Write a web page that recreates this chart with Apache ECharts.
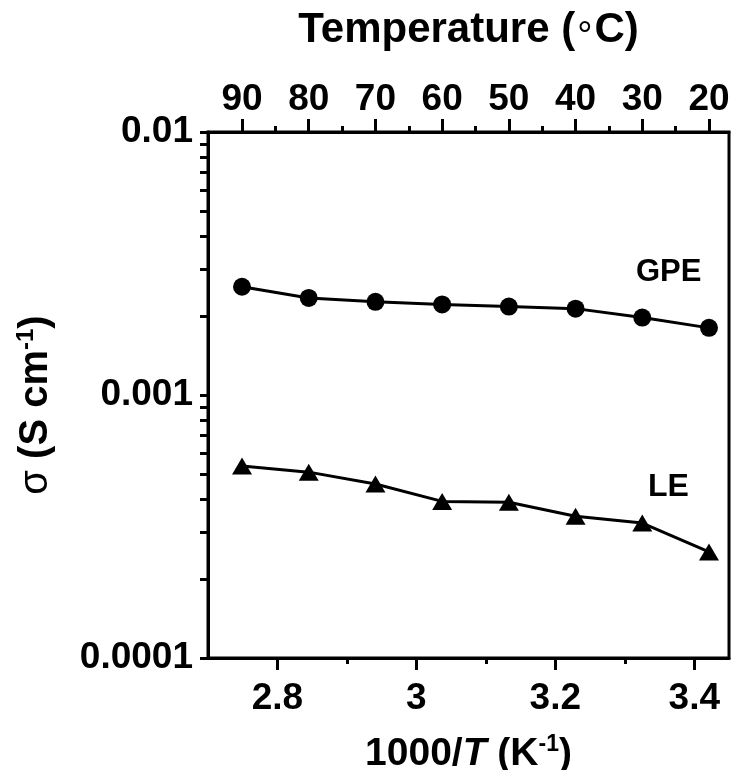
<!DOCTYPE html>
<html>
<head>
<meta charset="utf-8">
<script src="https://cdn.jsdelivr.net/npm/echarts@6/dist/echarts.min.js"></script>
<style>
  html, body { margin: 0; padding: 0; background: #fff; }
  #chart { width: 734px; height: 770px; }
</style>
</head>
<body>
<div id="chart"></div>
<script>
// temperature points (top axis), conductivity
var temps = [90, 80, 70, 60, 50, 40, 30, 20];
var gpe = [0.00258, 0.00234, 0.00226, 0.00221, 0.00217, 0.00213, 0.00197, 0.00180];
var le = [0.000537, 0.000509, 0.000459, 0.000394, 0.000391, 0.000346, 0.000326, 0.000253];

// tick values
var invTMajor = [2.8, 3.0, 3.2, 3.4];
var invTMinor = [2.9, 3.1, 3.3];
var tempMajor = [90, 80, 70, 60, 50, 40, 30, 20];
var tempMinor = [85, 75, 65, 55, 45, 35, 25];
var sigmaMajor = [0.0001, 0.001, 0.01];
var sigmaAll = [0.0001, 0.0002, 0.0003, 0.0004, 0.0005, 0.0006, 0.0007, 0.0008, 0.0009,
  0.001, 0.002, 0.003, 0.004, 0.005, 0.006, 0.007, 0.008, 0.009, 0.01];

var FONT = "'Liberation Sans', Arial, sans-serif";
var black = '#000';

var myChart = echarts.init(document.getElementById('chart'), null, { renderer: 'canvas' });

var labelStyle = {
  color: black,
  fontFamily: FONT,
  fontWeight: 'bold',
  fontSize: 37
};

var option = {
  backgroundColor: '#fff',
  animation: false,
  grid: {
    left: 208,
    right: 5,
    top: 132,
    bottom: 112,
    show: true,
    borderColor: black,
    borderWidth: 3,
    containLabel: false,
    outerBoundsMode: 'none'
  },
  xAxis: [
    {
      // 1000/T, bottom
      type: 'value',
      position: 'bottom',
      min: 2.7,
      max: 3.45,
      splitLine: { show: false },
      axisLine: { show: true, lineStyle: { color: black, width: 3 } },
      axisTick: { show: true, customValues: invTMajor, length: 12, lineStyle: { color: black, width: 3 } },
      axisLabel: Object.assign({
        customValues: invTMajor,
        margin: 22,
        formatter: function (v) { return String(+v.toFixed(1)); }
      }, labelStyle),
      name: '1000/{i|T} (K{sup|-1})',
      nameLocation: 'middle',
      nameGap: 75,
      nameTextStyle: {
        color: black, fontFamily: FONT, fontWeight: 'bold', fontSize: 39,
        rich: {
          i: { fontFamily: FONT, fontWeight: 'bold', fontStyle: 'italic', fontSize: 39, color: black },
          sup: { fontFamily: FONT, fontWeight: 'bold', fontSize: 23, color: black, verticalAlign: 'top', lineHeight: 42 }
        }
      }
    },
    {
      // temperature, top
      type: 'value',
      position: 'top',
      min: 17.0,
      max: 95.1,
      inverse: true,
      splitLine: { show: false },
      axisLine: { show: true, lineStyle: { color: black, width: 3 } },
      axisTick: { show: true, customValues: tempMajor, length: 13, lineStyle: { color: black, width: 3 } },
      axisLabel: Object.assign({ customValues: tempMajor, margin: 14 }, labelStyle),
      name: 'Temperature ({d|°}C)',
      nameLocation: 'middle',
      nameGap: 75,
      nameTextStyle: {
        color: black, fontFamily: FONT, fontWeight: 'bold', fontSize: 42,
        rich: {
          d: { fontFamily: FONT, fontWeight: 'normal', fontSize: 38, color: black, padding: [16, 2, 0, 2] }
        }
      }
    },
    {
      // minor ticks on top
      type: 'value',
      position: 'top',
      min: 17.0,
      max: 95.1,
      inverse: true,
      splitLine: { show: false },
      axisLine: { show: false },
      axisTick: { show: true, customValues: tempMinor, length: 6, lineStyle: { color: black, width: 3 } },
      axisLabel: { show: false }
    },
    {
      // minor ticks on bottom
      type: 'value',
      position: 'bottom',
      min: 2.7,
      max: 3.45,
      splitLine: { show: false },
      axisLine: { show: false },
      axisTick: { show: true, customValues: invTMinor, length: 6, lineStyle: { color: black, width: 3 } },
      axisLabel: { show: false }
    }
  ],
  yAxis: [
    {
      type: 'log',
      logBase: 10,
      position: 'left',
      min: 0.0001,
      max: 0.01,
      splitLine: { show: false },
      axisLine: { show: true, lineStyle: { color: black, width: 3 } },
      axisTick: { show: true, customValues: sigmaAll, length: 8, lineStyle: { color: black, width: 3 } },
      minorTick: { show: false },
      axisLabel: Object.assign({
        customValues: sigmaMajor,
        margin: 15,
        formatter: function (v) { return String(+(+v).toPrecision(1)); }
      }, labelStyle),
      name: '{n|σ} (S cm{sup|-1})',
      nameLocation: 'middle',
      nameRotate: 90,
      nameGap: 150,
      nameTextStyle: {
        color: black, fontFamily: FONT, fontWeight: 'bold', fontSize: 40,
        padding: [0, 20, 0, 0],
        rich: {
          n: { fontFamily: FONT, fontWeight: 'normal', fontSize: 40, color: black },
          sup: { fontFamily: FONT, fontWeight: 'bold', fontSize: 24, color: black, verticalAlign: 'top', lineHeight: 44 }
        }
      }
    }
  ],
  series: [
    {
      name: 'GPE',
      type: 'line',
      xAxisIndex: 1,
      yAxisIndex: 0,
      data: temps.map(function (t, i) { return [t, gpe[i]]; }),
      symbol: 'circle',
      symbolSize: 18,
      itemStyle: { color: black },
      lineStyle: { color: black, width: 3 }
    },
    {
      name: 'LE',
      type: 'line',
      xAxisIndex: 1,
      yAxisIndex: 0,
      data: temps.map(function (t, i) { return [t, le[i]]; }),
      symbol: 'triangle',
      symbolSize: [20, 17],
      itemStyle: { color: black },
      lineStyle: { color: black, width: 3 }
    }
  ],
  graphic: [
    {
      type: 'text',
      left: 636,
      top: 257,
      style: { text: 'GPE', fill: black, font: 'bold 31px ' + FONT }
    },
    {
      type: 'text',
      left: 648,
      top: 471,
      style: { text: 'LE', fill: black, font: 'bold 32px ' + FONT }
    }
  ]
};

myChart.setOption(option);
</script>
</body>
</html>
